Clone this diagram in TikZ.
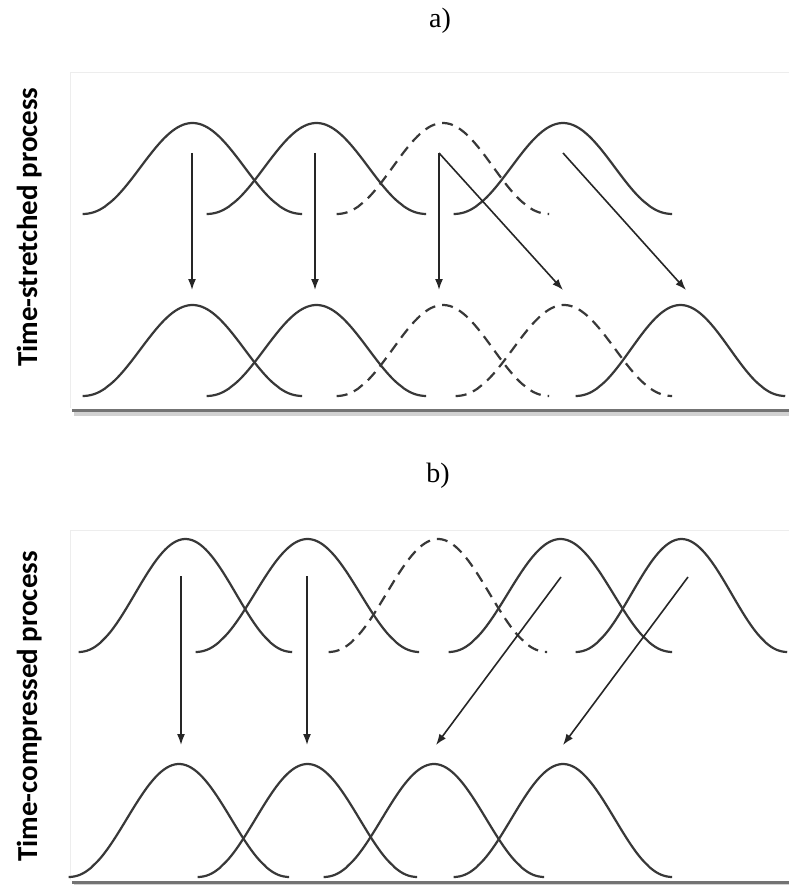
\documentclass[tikz,border=0pt]{standalone}
\usepackage{fontspec}
\setmainfont{Liberation Serif}
\newfontfamily\labfont{Carlito}
\usetikzlibrary{arrows.meta}
\tikzset{
  wave/.style={line width=2.2pt, draw=black!78},
  dwave/.style={wave, dash pattern=on 11pt off 7pt},
  mapar/.style={line width=1.6pt, draw=black!85, -{Latex[length=11pt,width=8pt]}},
  framelin/.style={draw=black!7, line width=1pt},
  shadowdark/.style={draw=black!55, line width=3pt},
  shadowlight/.style={draw=black!18, line width=4pt},
  sidelabel/.style={rotate=90, anchor=base west, inner sep=0pt, font=\labfont\bfseries\fontsize{29}{29}\selectfont},
  panellabel/.style={inner sep=0pt, font=\fontsize{28}{28}\selectfont}
}
\newcommand\bellcurve[5]{%
  \draw[#1] plot[domain=0.003:0.997, samples=80, smooth]
    ({#2+\x*(#3-#2)}, {#4-#5*(0.5-0.5*cos(360*\x))^1.1});
}
\begin{document}
\begin{tikzpicture}[x=1pt,y=-1pt]
\useasboundingbox (0,0) rectangle (789,885);
% ---------------- panel a ----------------
\node[panellabel] (la) at (440,21) {a)};
\node[sidelabel] (sa) at (37,367) {Time-stretched process};
\draw[framelin] (789,72.5) -- (70,72.5) -- (70,408);
\draw[shadowlight] (74,414) -- (789,414);
\draw[shadowdark] (72,410) -- (789,410);
% top row
\bellcurve{wave}{82}{303}{214}{91}
\bellcurve{wave}{206}{427}{214}{91}
\bellcurve{dwave}{336}{550}{214}{91}
\bellcurve{wave}{453}{673}{214}{91}
% bottom row
\bellcurve{wave}{82}{303}{396}{91}
\bellcurve{wave}{206}{427}{396}{91}
\bellcurve{dwave}{336}{550}{396}{91}
\bellcurve{dwave}{455}{673}{396}{91}
\bellcurve{wave}{575}{786}{396}{91}
% arrows
\coordinate (a1s) at (192,153); \coordinate (a1e) at (192,290);
\coordinate (a2s) at (315,153); \coordinate (a2e) at (315,290);
\coordinate (a3s) at (439,153); \coordinate (a3e) at (439,290);
\coordinate (a4e) at (563,290);
\coordinate (a5s) at (563,153); \coordinate (a5e) at (686,290);
\draw[mapar] (a1s) -- (a1e);
\draw[mapar] (a2s) -- (a2e);
\draw[mapar] (a3s) -- (a3e);
\draw[mapar] (a3s) -- (a4e);
\draw[mapar] (a5s) -- (a5e);
% ---------------- panel b ----------------
\node[panellabel] (lb) at (438,476) {b)};
\node[sidelabel] (sb) at (37,862) {Time-compressed process};
\draw[framelin] (789,530.5) -- (70,530.5) -- (70,880);
% top row
\bellcurve{wave}{78}{293}{652}{113}
\bellcurve{wave}{195}{420}{652}{113}
\bellcurve{dwave}{328}{548}{652}{113}
\bellcurve{wave}{448}{673}{652}{113}
\bellcurve{wave}{575}{788}{652}{113}
% bottom row
\bellcurve{wave}{68}{290}{877}{113}
\bellcurve{wave}{197}{418}{877}{113}
\bellcurve{wave}{323}{545}{877}{113}
\bellcurve{wave}{453}{673}{877}{113}
\draw[shadowlight] (74,885) -- (789,885);
\draw[shadowdark] (72,882) -- (789,882);
% arrows
\coordinate (b1s) at (181,576); \coordinate (b1e) at (181,745);
\coordinate (b2s) at (307,576); \coordinate (b2e) at (307,745);
\coordinate (b3s) at (561,577); \coordinate (b3e) at (436,745);
\coordinate (b4s) at (688,577); \coordinate (b4e) at (563,745);
\draw[mapar] (b1s) -- (b1e);
\draw[mapar] (b2s) -- (b2e);
\draw[mapar] (b3s) -- (b3e);
\draw[mapar] (b4s) -- (b4e);
\end{tikzpicture}
\end{document}
